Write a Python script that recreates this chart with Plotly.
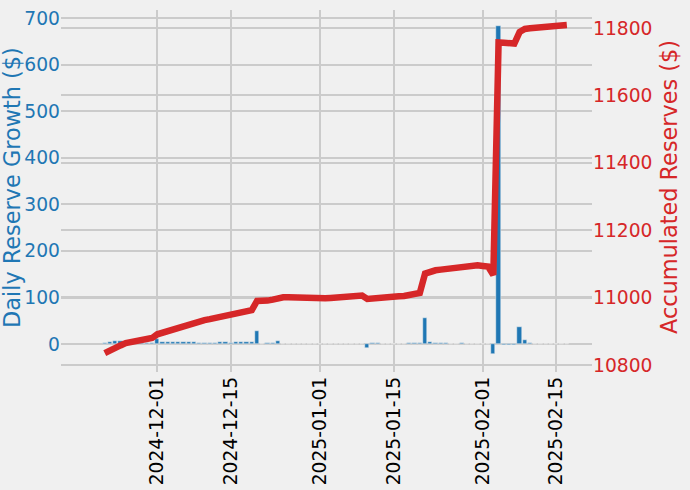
import pandas as pd
import plotly.graph_objects as go

# ---- data ----
start_date = "2024-11-21"
end_date = "2025-02-17"
dates = pd.date_range(start_date, end_date, freq="D")

daily_growth = [
    3, 5, 7, 7, 5, 3, 3, 3, 3, 3,                          # Nov 21-30
    10, 4, 4, 5, 5, 5, 4, 4, 3, 3,                         # Dec 1-10
    3, 3, 4, 4, 3, 4, 4, 4, 4, 27,                         # Dec 11-20
    -1, 2, 3, 6, 1, 0.5, 0.5, 0.5, 0.5, 0, 0,              # Dec 21-31
    0, 0, 0.5, 0.5, 0.5, 0.5, 0.5, 0.5, 0.5, -9,           # Jan 1-10
    2, 2, 0.5, 0.5, 0.5, 0.5, 0.5, 1.5, 1.5, 1.5, 56,      # Jan 11-21
    4, 2, 1.5, 1.5, 0.5, 0.5, 1.5, 0.5, 0.5, -1,           # Jan 22-31
    -1, -1, -21, 682, -2, -2, -2, 36, 9, 3,                # Feb 1-10
    0.5, 0.5, 0.5, 0.5, 0.5, 0.5, 0.5,                     # Feb 11-17
]

accumulated = [
    10835, 10841, 10849, 10858, 10865, 10868, 10871, 10874, 10877, 10880,
    10891, 10896, 10901, 10906, 10912, 10918, 10922, 10926, 10930, 10933,
    10936, 10939, 10943, 10947, 10950, 10954, 10957, 10960, 10963, 10990,
    10989, 10991, 10994, 11000, 11001, 11001, 11000, 11000, 10999, 10999, 10998,
    10998, 10998, 10999, 11000, 11001, 11002, 11003, 11004, 11006, 10996,
    10998, 11000, 11001, 11002, 11003, 11004, 11005, 11007, 11010, 11014, 11071,
    11077, 11081, 11083, 11085, 11086, 11088, 11090, 11093, 11096, 11096,
    11094, 11092, 11067, 11757, 11756, 11755, 11754, 11788, 11797, 11799,
    11801, 11802, 11803, 11804, 11806, 11807, 11809,
]

x_tick_dates = ["2024-12-01", "2024-12-15", "2025-01-01", "2025-01-15", "2025-02-01", "2025-02-15"]
left_ticks = [0, 100, 200, 300, 400, 500, 600, 700]
right_ticks = [10800, 11000, 11200, 11400, 11600, 11800]
left_title = "Daily Reserve Growth ($)"
right_title = "Accumulated Reserves ($)"

BLUE = "#1f77b4"
RED = "#d62728"
BG = "#f0f0f0"
GRID = "#cbcbcb"
FONT = "DejaVu Sans"

fig = go.Figure()
fig.add_trace(go.Bar(
    x=dates, y=daily_growth, width=0.8 * 86400000,
    marker=dict(color=BLUE, line=dict(color=BG, width=0.5)),
    yaxis="y", showlegend=False,
))
fig.add_trace(go.Scatter(
    x=dates, y=accumulated, mode="lines",
    line=dict(color=RED, width=6.5),
    yaxis="y2", showlegend=False,
))

fig.update_layout(
    width=690, height=490,
    paper_bgcolor=BG, plot_bgcolor=BG,
    margin=dict(l=61, r=98, t=10, b=118, autoexpand=False),
    font=dict(family=FONT, size=18.7, color="black"),
    bargap=0,
    xaxis=dict(
        type="date",
        range=["2024-11-12 16:00", "2025-02-21 19:00"],
        tickvals=x_tick_dates, tickformat="%Y-%m-%d", tickangle=-90,
        showgrid=True, gridcolor=GRID, gridwidth=1.5,
        zeroline=False, showline=False, ticks="",
        tickfont=dict(size=18.7, color="black"),
        automargin=False,
    ),
    yaxis=dict(
        range=[-60.1, 717.2],
        tickvals=left_ticks,
        showgrid=True, gridcolor=GRID, gridwidth=1.5,
        zeroline=False, showline=False, ticks="",
        tickfont=dict(size=18.7, color=BLUE),
        automargin=False,
    ),
    yaxis2=dict(
        overlaying="y", side="right",
        range=[10779.2, 11853.4],
        tickvals=right_ticks, tickformat="d",
        showgrid=True, gridcolor=GRID, gridwidth=1.5,
        zeroline=False, showline=False, ticks="",
        tickfont=dict(size=18.7, color=RED),
        automargin=False,
    ),
    annotations=[
        dict(text=left_title, textangle=-90, showarrow=False,
             xref="paper", yref="paper", x=-0.0923, y=0.511,
             xanchor="center", yanchor="middle",
             font=dict(size=22.4, color=BLUE)),
        dict(text=right_title, textangle=-90, showarrow=False,
             xref="paper", yref="paper", x=1.145, y=0.511,
             xanchor="center", yanchor="middle",
             font=dict(size=22.4, color=RED)),
    ],
)

fig.write_html(
    "out.html",
    config={"displayModeBar": False},
    post_script="document.body.style.margin='0';document.body.style.padding='0';document.body.style.background='#f0f0f0';",
)
